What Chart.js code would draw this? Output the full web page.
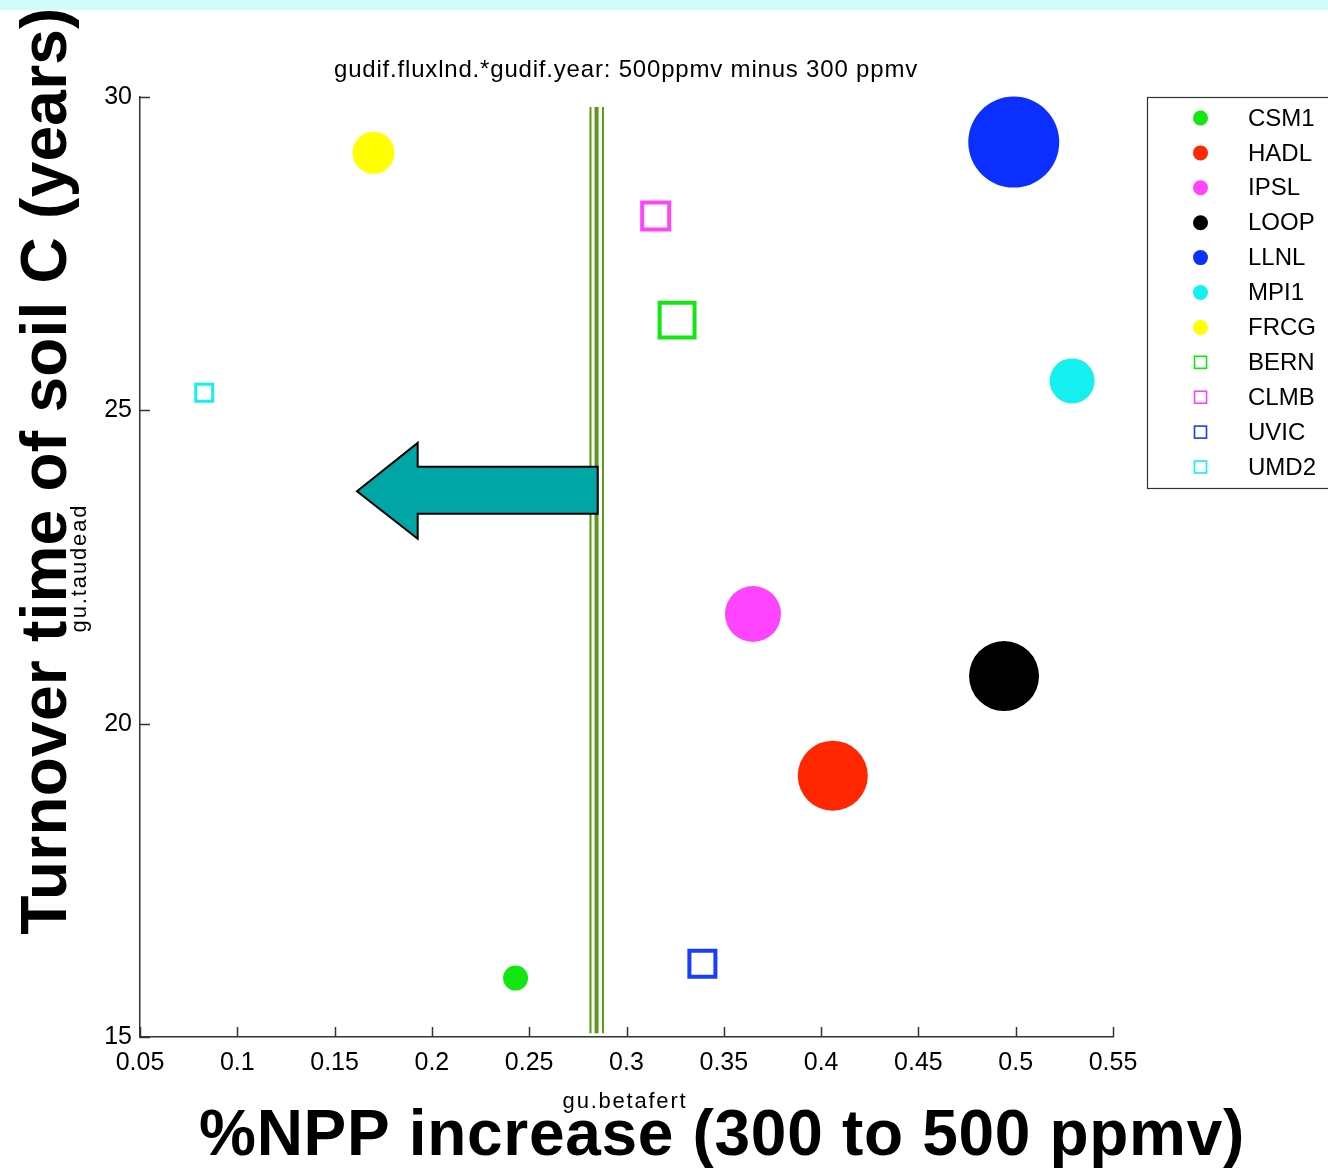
<!DOCTYPE html>
<html><head><meta charset="utf-8">
<script src="https://cdn.jsdelivr.net/npm/chart.js@4.4.0/dist/chart.umd.min.js"></script>
<style>html,body{margin:0;padding:0;background:#fff;overflow:hidden}canvas{display:block}</style>
</head><body><canvas id="c" width="1328" height="1168"></canvas>
<script>
// ---- data ----
const models   = ['CSM1','HADL','IPSL','LOOP','LLNL','MPI1','FRCG','BERN','CLMB','UVIC','UMD2'];
const nppIncrease = [0.243, 0.406, 0.365, 0.494, 0.499, 0.529, 0.170, 0.326, 0.315, 0.339, 0.083];
const turnover    = [15.94, 19.17, 21.75, 20.76, 29.28, 25.47, 29.11, 26.44, 28.10, 16.17, 25.28];
const xTicks = [0.05, 0.1, 0.15, 0.2, 0.25, 0.3, 0.35, 0.4, 0.45, 0.5, 0.55];
const yTicks = [15, 20, 25, 30];
const refLinesX = [0.2815, 0.2846, 0.2879];
const refLinesY = [15.06, 29.84];
const arrowX = [0.1615, 0.1927, 0.1927, 0.2852, 0.2852, 0.1927, 0.1927];
const arrowY = [23.71, 24.48, 24.10, 24.10, 23.35, 23.35, 22.95];

// ---- styles ----
const markerShape = ['circle','circle','circle','circle','circle','circle','circle','rect','rect','rect','rect'];
const markerColor = ['#14e614','#ff2600','#ff44ff','#000000','#0b2fff','#14f0f0','#ffff00','#14e614','#ff44ff','#1a3cff','#14f0f0'];
const markerRadius = [12.5, 35, 28, 35, 45.5, 22.5, 21, 24.7, 19.1, 18.4, 12];
const markerLine = [0,0,0,0,0,0,0,4,4,4,3];
const refLineWidth = [2, 4, 2];
const FONT = "'Liberation Sans', Arial, Helvetica, sans-serif";

const datasets = models.map((m, i) => ({
  label: m,
  data: [{x: nppIncrease[i], y: turnover[i]}],
  pointStyle: markerShape[i],
  pointRadius: markerRadius[i],
  pointHoverRadius: markerRadius[i],
  backgroundColor: markerShape[i] === 'circle' ? markerColor[i] : 'rgba(0,0,0,0)',
  borderColor: markerColor[i],
  pointBorderWidth: markerLine[i],
  borderWidth: markerLine[i],
  showLine: false,
  clip: false
}));
refLinesX.forEach((xv, i) => datasets.push({
  label: '_ref' + i,
  data: [{x: xv, y: refLinesY[0]}, {x: xv, y: refLinesY[1]}],
  showLine: true,
  borderColor: '#5b9b14',
  borderWidth: refLineWidth[i],
  pointRadius: 0,
  pointHoverRadius: 0,
  clip: false
}));

function fitText(ctx, text, target) {
  ctx.letterSpacing = '0px';
  const w = ctx.measureText(text).width;
  const ls = (target - w) / Math.max(1, text.length - 1);
  ctx.letterSpacing = ls.toFixed(2) + 'px';
}

const decor = {
  id: 'decor',
  afterDatasetsDraw(chart) {
    const {ctx, scales: {x, y}} = chart;
    ctx.save();
    ctx.beginPath();
    arrowX.forEach((v, i) => {
      const px = x.getPixelForValue(v), py = y.getPixelForValue(arrowY[i]);
      if (i === 0) ctx.moveTo(px, py); else ctx.lineTo(px, py);
    });
    ctx.closePath();
    ctx.fillStyle = '#00a6a6';
    ctx.fill();
    ctx.lineWidth = 2;
    ctx.strokeStyle = '#000';
    ctx.lineJoin = 'miter';
    ctx.stroke();
    ctx.restore();
  },
  afterDraw(chart) {
    const {ctx, chartArea: a, scales: {x, y}} = chart;
    ctx.save();
    ctx.strokeStyle = '#333';
    ctx.lineWidth = 1.5;
    xTicks.forEach(v => {
      const px = Math.round(x.getPixelForValue(v)) + 0.5;
      ctx.beginPath(); ctx.moveTo(px, a.bottom); ctx.lineTo(px, a.bottom - 10); ctx.stroke();
    });
    yTicks.forEach(v => {
      const py = Math.round(y.getPixelForValue(v)) + 0.5;
      ctx.beginPath(); ctx.moveTo(a.left, py); ctx.lineTo(a.left + 10, py); ctx.stroke();
    });
    // legend box
    ctx.lineWidth = 1.2;
    ctx.strokeStyle = '#333';
    ctx.strokeRect(1147.5, 97.5, 200, 391);
    ctx.font = '24px ' + FONT;
    ctx.textBaseline = 'middle';
    ctx.textAlign = 'left';
    models.forEach((m, i) => {
      const ly = 118 + i * 34.9;
      if (markerShape[i] === 'circle') {
        ctx.beginPath(); ctx.arc(1200.5, ly, 7.5, 0, Math.PI * 2);
        ctx.fillStyle = markerColor[i]; ctx.fill();
      } else {
        ctx.lineWidth = 1.6; ctx.strokeStyle = markerColor[i];
        ctx.strokeRect(1194.5, ly - 6, 12, 12);
      }
      ctx.fillStyle = '#000';
      ctx.fillText(m, 1248, ly + 1);
    });
    // title
    ctx.textAlign = 'center';
    ctx.textBaseline = 'alphabetic';
    ctx.font = '24px ' + FONT;
    const title = 'gudif.fluxlnd.*gudif.year: 500ppmv minus 300 ppmv';
    fitText(ctx, title, 583);
    ctx.fillText(title, 626, 77);
    // small axis names
    ctx.font = '22px ' + FONT;
    const xs = 'gu.betafert';
    fitText(ctx, xs, 123);
    ctx.fillText(xs, 625, 1108);
    ctx.save();
    ctx.translate(86, 568); ctx.rotate(-Math.PI / 2);
    const ys = 'gu.taudead';
    fitText(ctx, ys, 127);
    ctx.fillText(ys, 0, 0);
    ctx.restore();
    // big axis labels
    ctx.font = 'bold 64px ' + FONT;
    const xl = '%NPP increase (300 to 500 ppmv)';
    fitText(ctx, xl, 1045);
    ctx.fillText(xl, 722, 1155);
    ctx.save();
    ctx.translate(66, 471); ctx.rotate(-Math.PI / 2);
    const yl = 'Turnover time of soil C (years)';
    fitText(ctx, yl, 927);
    ctx.fillText(yl, 0, 0);
    ctx.restore();
    // top band
    ctx.letterSpacing = '0px';
    ctx.fillStyle = '#d2fcfc';
    ctx.fillRect(0, 0, chart.width, 10);
    ctx.restore();
  }
};

new Chart(document.getElementById('c'), {
  type: 'scatter',
  data: {datasets},
  options: {
    responsive: false,
    animation: false,
    events: [],
    layout: {padding: {top: 97, right: 215, left: 0, bottom: 0}},
    plugins: {legend: {display: false}, title: {display: false}, tooltip: {enabled: false}},
    scales: {
      x: {
        type: 'linear', min: 0.05, max: 0.55,
        afterBuildTicks: s => { s.ticks = xTicks.map(v => ({value: v})); },
        afterFit: s => { s.height = 131; },
        grid: {display: false, drawTicks: false},
        border: {display: true, color: '#333', width: 1.5},
        ticks: {color: '#000', font: {family: FONT, size: 25}, padding: 11, maxRotation: 0, autoSkip: false,
                 callback: v => String(v)}
      },
      y: {
        type: 'linear', min: 15, max: 30,
        afterBuildTicks: s => { s.ticks = yTicks.map(v => ({value: v})); },
        afterFit: s => { s.width = 140; },
        grid: {display: false, drawTicks: false},
        border: {display: true, color: '#333', width: 1.5},
        ticks: {color: '#000', font: {family: FONT, size: 25}, padding: 8, callback: v => String(v)}
      }
    }
  },
  plugins: [decor]
});
</script>
</body></html>
